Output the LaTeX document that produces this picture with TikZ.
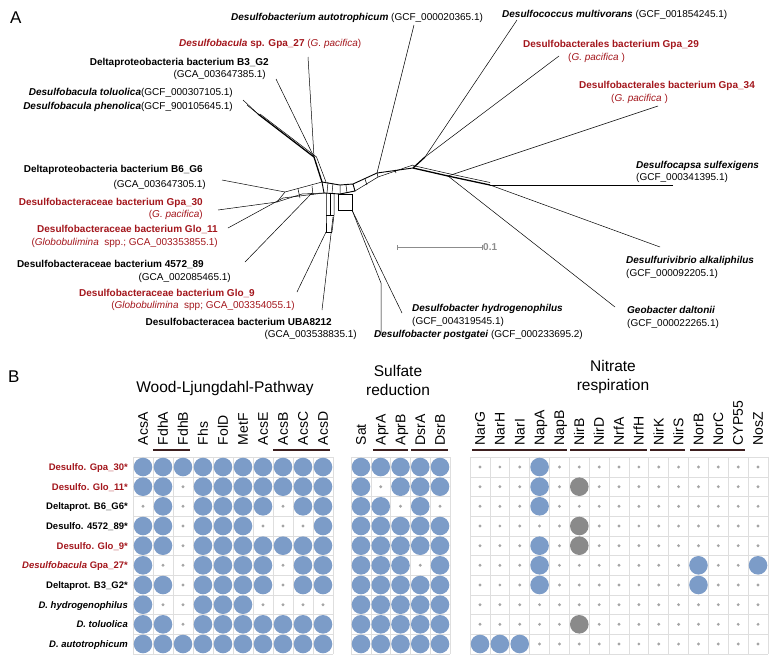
\documentclass[tikz,border=0pt]{standalone}
\usepackage{fontspec}
\setmainfont{Liberation Sans}
\definecolor{dred}{RGB}{163,22,28}
\definecolor{dblue}{RGB}{124,156,200}
\definecolor{dgray}{RGB}{138,138,138}
\definecolor{sgray}{RGB}{165,165,165}
\definecolor{gridc}{RGB}{222,222,222}
\definecolor{ulc}{RGB}{60,30,30}
\definecolor{scal}{RGB}{140,140,140}
\newcommand\dotrow[4]{%
  \foreach \v [count=\k from 0] in {#4} {%
    \pgfmathsetmacro\xx{#1+#2*\k}%
    \ifnum\v=1 \fill[dblue] (\xx,#3) circle (9.3pt);\fi
    \ifnum\v=2 \fill[dgray] (\xx,#3) circle (9.3pt);\fi
    \ifnum\v=0 \fill[sgray] (\xx,#3) circle (1.6pt);\fi
  }}
\begin{document}
\begin{tikzpicture}[x=1pt,y=-1pt,
  lab/.style={font=\fontsize{10}{12}\selectfont, inner sep=0pt},
  rlab/.style={lab, text=dred},
  br/.style={line width=0.5pt, black},
  tk/.style={line width=1.3pt, black},
  rowlab/.style={font=\fontsize{9.5}{11}\selectfont\bfseries, inner sep=0pt, anchor=base east},
  collab/.style={font=\fontsize{14}{16}\selectfont, inner sep=0pt, rotate=90, anchor=base west},
  grptitle/.style={font=\fontsize{15.5}{19.5}\selectfont, align=center, inner sep=0pt},
  ul/.style={line width=1.6pt, ulc},
  panel/.style={font=\fontsize{17}{20}\selectfont, inner sep=0pt, anchor=base west},
]
\useasboundingbox (0,0) rectangle (777,665);

% ---------- panel letters ----------
\node[panel] (pA) at (10,23) {A};
\node[panel] (pB) at (8,382) {B};

% ---------- tree labels ----------
\node[lab, anchor=base west] (t1) at (231,20) {\textbf{\textit{Desulfobacterium autotrophicum}} (GCF\_000020365.1)};
\node[rlab, anchor=base west] (t2) at (179,46) {\textbf{\textit{Desulfobacula} sp. Gpa\_27} (\textit{G. pacifica})};
\node[lab, anchor=base east] (t3a) at (269,65) {\textbf{Deltaproteobacteria bacterium B3\_G2}};
\node[lab, anchor=base east] (t3b) at (266,77) {(GCA\_003647385.1)};
\node[lab, anchor=base east] (t4) at (233,95) {\textbf{\textit{Desulfobacula toluolica}}(GCF\_000307105.1)};
\node[lab, anchor=base east] (t5) at (233,109) {\textbf{\textit{Desulfobacula phenolica}}(GCF\_900105645.1)};
\node[lab, anchor=base east] (t6a) at (203,172) {\textbf{Deltaproteobacteria bacterium B6\_G6}};
\node[lab, anchor=base east] (t6b) at (206,187) {(GCA\_003647305.1)};
\node[rlab, anchor=base east] (t7a) at (203,205) {\textbf{Desulfobacteraceae bacterium Gpa\_30}};
\node[rlab, anchor=base east] (t7b) at (203,217) {(\textit{G. pacifica})};
\node[rlab, anchor=base east] (t8a) at (218,232) {\textbf{Desulfobacteraceae bacterium Glo\_11}};
\node[rlab, anchor=base east] (t8b) at (218,245) {(\textit{Globobulimina}~ spp.; GCA\_003353855.1)};
\node[lab, anchor=base east] (t9a) at (204,267) {\textbf{Desulfobacteraceae bacterium 4572\_89}};
\node[lab, anchor=base east] (t9b) at (231,280) {(GCA\_002085465.1)};
\node[rlab, anchor=base east] (t10a) at (255,296) {\textbf{Desulfobacteraceae bacterium Glo\_9}};
\node[rlab, anchor=base east] (t10b) at (295,308) {(\textit{Globobulimina}~ spp; GCA\_003354055.1)};
\node[lab, anchor=base east] (t11a) at (332,325) {\textbf{Desulfobacteracea bacterium UBA8212}};
\node[lab, anchor=base east] (t11b) at (357,337) {(GCA\_003538835.1)};
\node[lab, anchor=base west] (t12) at (502,17) {\textbf{\textit{Desulfococcus multivorans}} (GCF\_001854245.1)};
\node[rlab, anchor=base west] (t13a) at (523,47) {\textbf{Desulfobacterales bacterium Gpa\_29}};
\node[rlab, anchor=base west] (t13b) at (568,60) {(\textit{G. pacifica} )};
\node[rlab, anchor=base west] (t14a) at (579,88) {\textbf{Desulfobacterales bacterium Gpa\_34}};
\node[rlab, anchor=base west] (t14b) at (611,101) {(\textit{G. pacifica} )};
\node[lab, anchor=base west] (t15a) at (636,168) {\textbf{\textit{Desulfocapsa sulfexigens}}};
\node[lab, anchor=base west] (t15b) at (636,180) {(GCF\_000341395.1)};
\node[lab, anchor=base west] (t16a) at (626,263) {\textbf{\textit{Desulfurivibrio alkaliphilus}}};
\node[lab, anchor=base west] (t16b) at (626,276) {(GCF\_000092205.1)};
\node[lab, anchor=base west] (t17a) at (627,313) {\textbf{\textit{Geobacter daltonii}}};
\node[lab, anchor=base west] (t17b) at (627,326) {(GCF\_000022265.1)};
\node[lab, anchor=base west] (t18a) at (412,311) {\textbf{\textit{Desulfobacter hydrogenophilus}}};
\node[lab, anchor=base west] (t18b) at (412,324) {(GCF\_004319545.1)};
\node[lab, anchor=base east] (t19) at (583,337) {\textbf{\textit{Desulfobacter postgatei}} (GCF\_000233695.2)};

% ---------- tree coordinates ----------
\coordinate (lauto) at (414,25);
\coordinate (ldcoc) at (517,20);
\coordinate (lg27) at (308,57);
\coordinate (lb3) at (276,79);
\coordinate (ltol) at (243,100);
\coordinate (lphe) at (247,105);
\coordinate (lg29) at (559,56);
\coordinate (lg34) at (658,106);
\coordinate (ldcap) at (673,185);
\coordinate (ldviv) at (660,247);
\coordinate (lgeo) at (615,307);
\coordinate (lhyd) at (402,313);
\coordinate (lpos) at (381,333);
\coordinate (luba) at (322,310);
\coordinate (lg9) at (297,292);
\coordinate (l4572) at (245,262);
\coordinate (lg11) at (228,228);
\coordinate (lg30) at (218,210);
\coordinate (lb6) at (222,180);

\coordinate (ntp) at (258,114);
\coordinate (nbg) at (314,157);
\coordinate (hubA) at (322,182);
\coordinate (hubB) at (340,185);
\coordinate (hubC) at (353,184);
\coordinate (hubD) at (355,191);
\coordinate (hubE) at (340,194);
\coordinate (hubF) at (324,193);
\coordinate (nauto) at (377,173);
\coordinate (nbb) at (413,168);
\coordinate (ndc) at (425,157);
\coordinate (n34) at (448,176);
\coordinate (ncap) at (490,185);
\coordinate (nsq) at (352,210);
\coordinate (npos) at (381,283);
\coordinate (ncolL) at (326,232);
\coordinate (ncolR) at (332,232);
\coordinate (nuba) at (333,217);
\coordinate (nb6) at (285,192);
\coordinate (ng30) at (277,202);
\coordinate (ng11) at (283,198);
\coordinate (n4572) at (312,193);

% leaves
\draw[br] (lauto) -- (nauto);
\draw[br] (ldcoc) -- (ndc);
\draw[br] (lg29) -- (ndc);
\draw[tk] (ndc) -- (nbb);
\draw[br] (lg27) -- (nbg);
\draw[br] (lb3) -- (nbg);
\draw[br] (ltol) -- (ntp);
\draw[br] (lphe) -- (ntp);
\draw[tk] (ntp) -- (nbg) -- (hubA);
\draw[br] ([xshift=2pt]ntp) -- ([xshift=2.5pt]nbg) -- ([xshift=4pt]hubA);
\draw[br] (lg34) -- (n34);
\draw[br] (lgeo) -- (n34);
\draw[br] (ldcap) -- (ncap);
\draw[br] (ldviv) -- (ncap);
\draw[tk] (nbb) -- (n34) -- (ncap);
\draw[br] ([yshift=2.5pt]nbb) -- ([yshift=2.5pt]n34) -- ([yshift=2.5pt]ncap);
\draw[br] (lhyd) -- (nsq);
\draw[br] (lpos) -- (npos) -- (nsq);
\draw[br] (luba) -- (nuba);
\draw[br] (lg9) -- (ncolL);
\draw[br] (lb6) -- (nb6);
\draw[br] (lg30) -- (ng30);
\draw[br] (lg11) -- (ng11);
\draw[br] (l4572) -- (n4572);

% reticulate centre
\draw[br, line width=0.9pt] (hubA) -- (hubB) -- (hubC) -- (hubD) -- (hubE) -- (hubF) -- cycle;
\draw[br] (328,182) -- (327,193) (333,183) -- (332,193) (hubB) -- (hubE) (346,185) -- (347,193);
\draw[br, line width=0.9pt] (hubC) -- (nauto) -- (nbb);
\draw[br] (hubD) -- (378,177) -- ([yshift=3pt]nbb);
\draw[br] (365,179) -- (367,185) (nauto) -- (378,177) (395,170) -- (396,173);
\draw[br] (338,194) rectangle (nsq);
\draw[br] (326,193) -- (326,215) -- (ncolL);
\draw[br] (330,193) -- (330,215);
\draw[br] (334,193) -- (334,215) -- (ncolR);
\draw[br] (326,215) -- (334,215) (ncolL) -- (ncolR);
\draw[br] (nb6) -- (hubA);
\draw[br] (ng11) -- (hubF);
\draw[br] (ng30) -- (302,194) -- (hubF);
\draw[br] (nb6) -- (ng30) (298,189) -- (300,198) (312,186) -- (313,195);

% scale bar
\coordinate (sb1) at (397,247);
\coordinate (sb2) at (482,247);
\draw[scal, line width=1pt] (sb1) -- (sb2);
\draw[scal, line width=0.8pt] ([yshift=-2.5pt]sb1) -- ([yshift=2.5pt]sb1) ([yshift=-2.5pt]sb2) -- ([yshift=2.5pt]sb2);
\node[lab, text=scal, anchor=west] (sbl) at (483,247) {\textbf{0.1}};

% ---------- panel B: titles ----------
\node[grptitle] (gwl) at (225,388) {Wood-Ljungdahl-Pathway};
\node[grptitle] (gsu) at (398,380.5) {Sulfate\\reduction};
\node[grptitle] (gni) at (613,377) {Nitrate\\respiration};

% column labels
\foreach \n [count=\k from 0] in {AcsA,FdhA,FdhB,Fhs,FolD,MetF,AcsE,AcsB,AcsC,AcsD}
  \node[collab] (cw\k) at ({143+20*\k+4.8},445.5) {\n};
\foreach \n [count=\k from 0] in {Sat,AprA,AprB,DsrA,DsrB}
  \node[collab] (cs\k) at ({361+19.75*\k+4.8},445.5) {\n};
\foreach \n [count=\k from 0] in {NarG,NarH,NarI,NapA,NapB,NirB,NirD,NrfA,NrfH,NirK,NirS,NorB,NorC,CYP55,NosZ}
  \node[collab] (cn\k) at ({480+19.86*\k+4.8},445.5) {\n};

% underlines
\draw[ul] (153,450) -- (190,450);
\draw[ul] (273,450) -- (330,450);
\draw[ul] (373,450) -- (408,450);
\draw[ul] (411,450) -- (448,450);
\draw[ul] (472,450) -- (567,450);
\draw[ul] (570,450) -- (647,450);
\draw[ul] (650,450) -- (685,450);
\draw[ul] (690,450) -- (745,450);

% grids
\foreach \k in {0,...,10} \draw[gridc, line width=0.7pt] ({133+20*\k},457.2) -- ({133+20*\k},653.9);
\foreach \k in {0,...,5} \draw[gridc, line width=0.7pt] ({351.1+19.75*\k},457.2) -- ({351.1+19.75*\k},653.9);
\foreach \k in {0,...,15} \draw[gridc, line width=0.7pt] ({470.1+19.86*\k},457.2) -- ({470.1+19.86*\k},653.9);
\foreach \k in {0,...,10} {
  \draw[gridc, line width=0.7pt] (133,{457.2+19.67*\k}) -- (333,{457.2+19.67*\k});
  \draw[gridc, line width=0.7pt] (351.1,{457.2+19.67*\k}) -- (449.9,{457.2+19.67*\k});
  \draw[gridc, line width=0.7pt] (470.1,{457.2+19.67*\k}) -- (768,{457.2+19.67*\k});
}

% row labels
\node[rowlab, text=dred] (r0) at (128,470.5) {Desulfo. Gpa\_30*};
\node[rowlab, text=dred] (r1) at (128,490.2) {Desulfo. Glo\_11*};
\node[rowlab] (r2) at (128,509.8) {Deltaprot. B6\_G6*};
\node[rowlab] (r3) at (128,529.5) {Desulfo. 4572\_89*};
\node[rowlab, text=dred] (r4) at (128,549.2) {Desulfo. Glo\_9*};
\node[rowlab, text=dred] (r5) at (128,568.8) {\textit{Desulfobacula} Gpa\_27*};
\node[rowlab] (r6) at (128,588.5) {Deltaprot. B3\_G2*};
\node[rowlab] (r7) at (128,608.2) {\textit{D. hydrogenophilus}};
\node[rowlab] (r8) at (128,627.8) {\textit{D. toluolica}};
\node[rowlab] (r9) at (128,647.5) {\textit{D. autotrophicum}};

% dots: Wood-Ljungdahl
\dotrow{143}{20}{467.0}{1,1,1,1,1,1,1,1,1,1}
\dotrow{143}{20}{486.7}{1,1,0,1,1,1,1,1,1,1}
\dotrow{143}{20}{506.3}{0,1,0,1,1,1,1,0,1,1}
\dotrow{143}{20}{526.0}{1,1,0,1,1,1,0,0,0,1}
\dotrow{143}{20}{545.7}{1,1,0,1,1,1,1,1,1,1}
\dotrow{143}{20}{565.3}{1,0,0,1,1,1,1,0,1,1}
\dotrow{143}{20}{585.0}{1,1,0,1,1,1,1,0,1,1}
\dotrow{143}{20}{604.7}{1,0,0,1,1,1,0,0,0,0}
\dotrow{143}{20}{624.3}{1,1,0,1,1,1,1,1,1,1}
\dotrow{143}{20}{644.0}{1,1,1,1,1,1,1,1,1,1}
% dots: Sulfate
\dotrow{361}{19.75}{467.0}{1,1,1,1,1}
\dotrow{361}{19.75}{486.7}{1,0,1,1,1}
\dotrow{361}{19.75}{506.3}{1,1,0,1,0}
\dotrow{361}{19.75}{526.0}{1,1,1,1,1}
\dotrow{361}{19.75}{545.7}{1,1,1,1,1}
\dotrow{361}{19.75}{565.3}{1,1,1,0,1}
\dotrow{361}{19.75}{585.0}{1,1,1,1,1}
\dotrow{361}{19.75}{604.7}{1,1,1,1,1}
\dotrow{361}{19.75}{624.3}{1,1,1,1,1}
\dotrow{361}{19.75}{644.0}{1,1,1,1,1}
% dots: Nitrate
\dotrow{480}{19.86}{467.0}{0,0,0,1,0,0,0,0,0,0,0,0,0,0,0}
\dotrow{480}{19.86}{486.7}{0,0,0,1,0,2,0,0,0,0,0,0,0,0,0}
\dotrow{480}{19.86}{506.3}{0,0,0,1,0,0,0,0,0,0,0,0,0,0,0}
\dotrow{480}{19.86}{526.0}{0,0,0,0,0,2,0,0,0,0,0,0,0,0,0}
\dotrow{480}{19.86}{545.7}{0,0,0,1,0,2,0,0,0,0,0,0,0,0,0}
\dotrow{480}{19.86}{565.3}{0,0,0,1,0,0,0,0,0,0,0,1,0,0,1}
\dotrow{480}{19.86}{585.0}{0,0,0,1,0,0,0,0,0,0,0,1,0,0,0}
\dotrow{480}{19.86}{604.7}{0,0,0,0,0,0,0,0,0,0,0,0,0,0,0}
\dotrow{480}{19.86}{624.3}{0,0,0,0,0,2,0,0,0,0,0,0,0,0,0}
\dotrow{480}{19.86}{644.0}{1,1,1,0,0,0,0,0,0,0,0,0,0,0,0}
\end{tikzpicture}
\end{document}
